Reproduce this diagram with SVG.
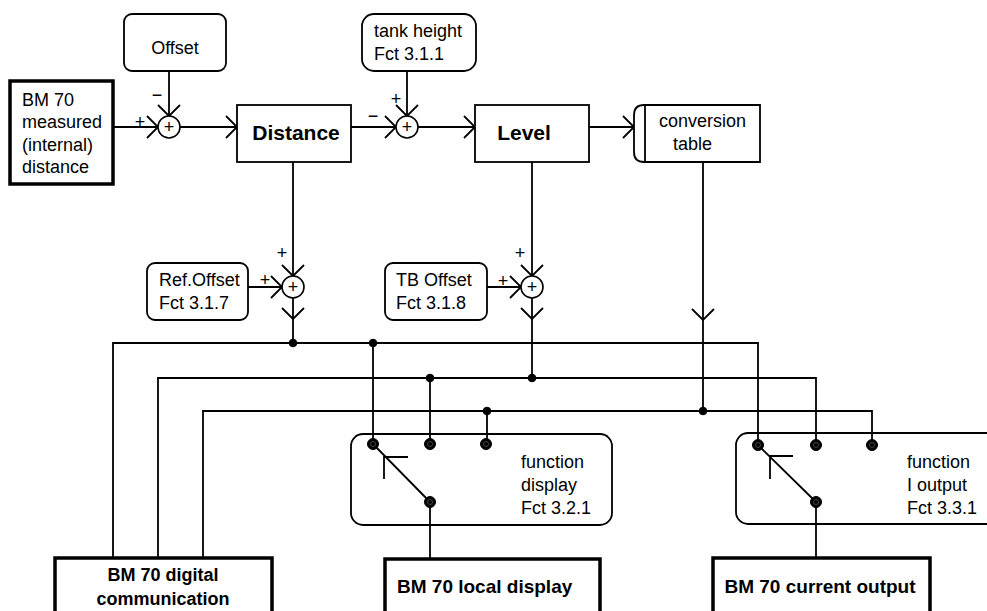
<svg xmlns="http://www.w3.org/2000/svg" width="987" height="611" viewBox="0 0 987 611">
<defs>
<style>
.t{font-family:"Liberation Sans",Arial,sans-serif;font-size:18px;fill:#000}
.b{font-family:"Liberation Sans",Arial,sans-serif;font-weight:bold;fill:#000}
.s{font-family:"Liberation Sans",Arial,sans-serif;font-size:18px;fill:#000;text-anchor:middle}
.box{fill:#fff;stroke:#000;stroke-width:1.8}
.thick{fill:#fff;stroke:#000;stroke-width:3.5}
.ln{fill:none;stroke:#000;stroke-width:1.8}
.arr{fill:none;stroke:#000;stroke-width:1.8;marker-end:url(#ch)}
.sum{fill:#fff;stroke:#000;stroke-width:1.6}
.dot{fill:#000;stroke:#000;stroke-width:1}
.ring{fill:none;stroke:#555;stroke-width:0.8}
</style>
<marker id="ch" viewBox="-12 -12 24 24" markerWidth="24" markerHeight="24" refX="0" refY="0" orient="auto" markerUnits="userSpaceOnUse">
<path d="M-11,-11 L0,0 L-11,11" fill="none" stroke="#000" stroke-width="1.8"/>
</marker>
</defs>
<rect width="987" height="611" fill="#fff"/>

<g id="connectors">
<path class="arr" d="M113,127 H158"/>
<path class="arr" d="M169,71 V116"/>
<path class="arr" d="M180,127 H237"/>
<path class="arr" d="M351,127 H396"/>
<path class="arr" d="M407,71 V116"/>
<path class="arr" d="M418,127 H475"/>
<path class="arr" d="M589,127 H634"/>
<path class="arr" d="M293,162 V276"/>
<path class="arr" d="M248,287 H282"/>
<path class="arr" d="M293,298 V319"/>
<path class="ln" d="M293,319 V343"/>
<path class="arr" d="M532,162 V276"/>
<path class="arr" d="M487,287 H521"/>
<path class="arr" d="M532,298 V319"/>
<path class="ln" d="M532,319 V378"/>
<path class="arr" d="M703,162 V320"/>
<path class="ln" d="M703,320 V411"/>
<path class="ln" d="M113,558 V343 H758 V445"/>
<path class="ln" d="M158,558 V378 H816 V445"/>
<path class="ln" d="M203,558 V411 H872 V445"/>
<path class="ln" d="M373,343 V444"/>
<path class="ln" d="M430,378 V444"/>
<path class="ln" d="M487,411 V444"/>
<path class="ln" d="M430,502 V559"/>
<path class="ln" d="M816,502 V558"/>
<g id="bus-dots">
<circle class="dot" cx="293" cy="343" r="3.8"/>
<circle class="dot" cx="373" cy="343" r="3.8"/>
<circle class="dot" cx="430" cy="378" r="3.8"/>
<circle class="dot" cx="532" cy="378" r="3.8"/>
<circle class="dot" cx="487" cy="411" r="3.8"/>
<circle class="dot" cx="703" cy="411" r="3.8"/>
</g>
</g>

<g id="sum1">
<circle class="sum" cx="169" cy="127" r="11"/>
<text class="s" x="169" y="133">+</text>
<text class="s" x="140" y="128">+</text>
<text class="s" x="157" y="101">−</text>
</g>
<g id="sum2">
<circle class="sum" cx="407" cy="127" r="11"/>
<text class="s" x="407" y="133">+</text>
<text class="s" x="396" y="105">+</text>
<text class="s" x="373" y="122">−</text>
</g>
<g id="sum3">
<circle class="sum" cx="293" cy="287" r="11"/>
<text class="s" x="293" y="293">+</text>
<text class="s" x="282" y="259">+</text>
<text class="s" x="265" y="286">+</text>
</g>
<g id="sum4">
<circle class="sum" cx="532" cy="287" r="11"/>
<text class="s" x="532" y="293">+</text>
<text class="s" x="520" y="259">+</text>
<text class="s" x="503" y="287">+</text>
</g>

<g id="offset">
<rect class="box" x="124" y="14" width="102" height="57" rx="8"/>
<text class="t" x="175" y="54" text-anchor="middle">Offset</text>
</g>
<g id="tank-height">
<rect class="box" x="362" y="14" width="114" height="57" rx="12"/>
<text class="t" x="374" y="37">tank height</text>
<text class="t" x="374" y="60">Fct 3.1.1</text>
</g>
<g id="measured">
<rect class="thick" x="10" y="81" width="103" height="103"/>
<text class="t" x="22" y="106">BM 70</text>
<text class="t" x="22" y="128">measured</text>
<text class="t" x="22" y="151">(internal)</text>
<text class="t" x="22" y="173">distance</text>
</g>
<g id="distance">
<rect class="box" x="237" y="105" width="114" height="57"/>
<text class="b" x="296" y="140" text-anchor="middle" font-size="21">Distance</text>
</g>
<g id="level">
<rect class="box" x="475" y="105" width="114" height="57"/>
<text class="b" x="524" y="140" text-anchor="middle" font-size="21">Level</text>
</g>
<g id="conversion">
<path class="box" d="M644,105 H760 V162 H644 Q634,162 634,152 V115 Q634,105 644,105 Z"/>
<path class="ln" d="M645,105 V162"/>
<text class="t" x="659" y="127">conversion</text>
<text class="t" x="673" y="150">table</text>
</g>
<g id="ref-offset">
<rect class="box" x="147" y="263" width="101" height="57" rx="8"/>
<text class="t" x="159" y="286">Ref.Offset</text>
<text class="t" x="159" y="309">Fct 3.1.7</text>
</g>
<g id="tb-offset">
<rect class="box" x="385" y="263" width="102" height="57" rx="8"/>
<text class="t" x="396" y="286">TB Offset</text>
<text class="t" x="396" y="309">Fct 3.1.8</text>
</g>
<g id="function-display">
<rect class="box" x="351" y="434" width="261" height="91" rx="12" style="fill:none"/>
<path class="ln" d="M373,444 L430,502 M384,479 V457 H408"/>
<circle class="dot" cx="373" cy="444" r="5.5"/><circle class="ring" cx="373" cy="444" r="2.5"/>
<circle class="dot" cx="430" cy="444" r="5.5"/><circle class="ring" cx="430" cy="444" r="2.5"/>
<circle class="dot" cx="486" cy="444" r="5.5"/><circle class="ring" cx="486" cy="444" r="2.5"/>
<circle class="dot" cx="430" cy="502" r="5.5"/><circle class="ring" cx="430" cy="502" r="2.5"/>
<text class="t" x="521" y="468">function</text>
<text class="t" x="521" y="491">display</text>
<text class="t" x="521" y="514">Fct 3.2.1</text>
</g>
<g id="function-i-output">
<rect class="box" x="736" y="433" width="300" height="91" rx="12" style="fill:none"/>
<path class="ln" d="M758,445 L816,502 M770,479 V456 H793"/>
<circle class="dot" cx="758" cy="445" r="5.5"/><circle class="ring" cx="758" cy="445" r="2.5"/>
<circle class="dot" cx="816" cy="445" r="5.5"/><circle class="ring" cx="816" cy="445" r="2.5"/>
<circle class="dot" cx="872" cy="445" r="5.5"/><circle class="ring" cx="872" cy="445" r="2.5"/>
<circle class="dot" cx="816" cy="502" r="5.5"/><circle class="ring" cx="816" cy="502" r="2.5"/>
<text class="t" x="907" y="468">function</text>
<text class="t" x="907" y="491">I output</text>
<text class="t" x="907" y="514">Fct 3.3.1</text>
</g>
<g id="digital-communication">
<rect class="thick" x="55" y="558" width="217" height="70"/>
<text class="b" x="163" y="581" text-anchor="middle" font-size="18">BM 70 digital</text>
<text class="b" x="163" y="605" text-anchor="middle" font-size="18">communication</text>
</g>
<g id="local-display">
<rect class="thick" x="385" y="559" width="215" height="70"/>
<text class="b" x="397" y="593" font-size="19">BM 70 local display</text>
</g>
<g id="current-output">
<rect class="thick" x="713" y="558" width="217" height="70"/>
<text class="b" x="820" y="593" text-anchor="middle" font-size="19">BM 70 current output</text>
</g>
</svg>
